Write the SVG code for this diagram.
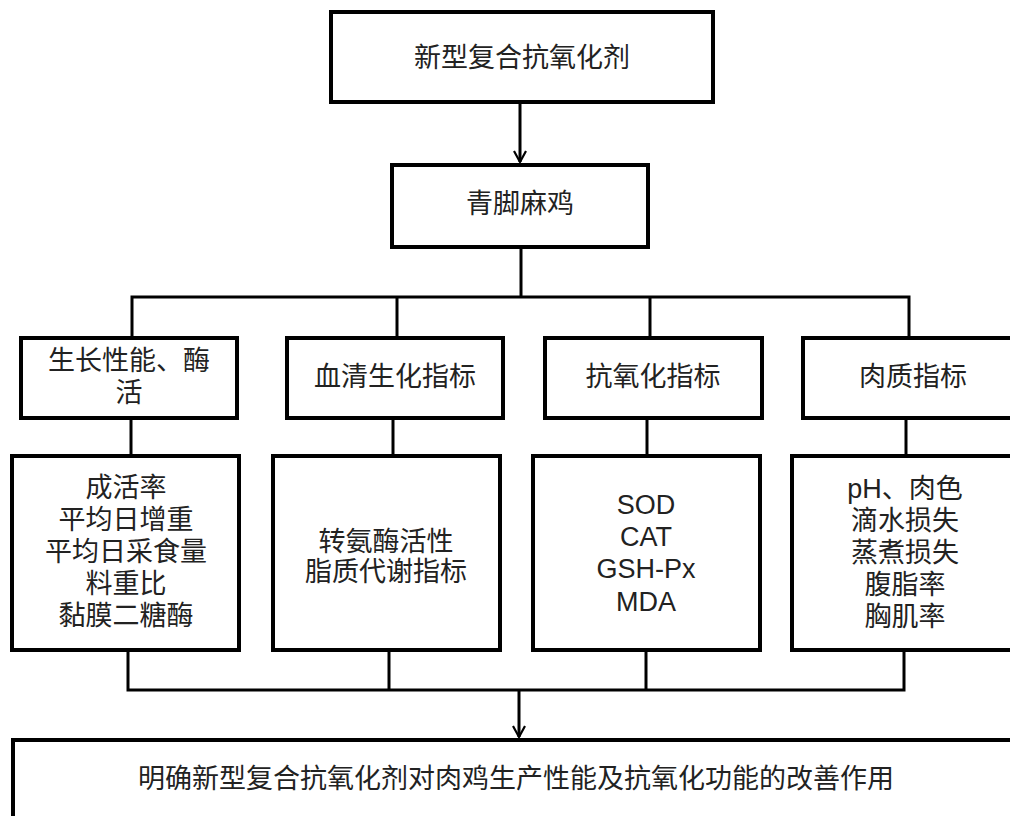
<svg xmlns="http://www.w3.org/2000/svg" width="1010" height="816" viewBox="0 0 1010 816">
<style>
.box{fill:#fff;stroke:#000;stroke-width:4}
.t{font-family:"Liberation Sans","Noto Sans CJK SC",sans-serif;font-size:27px;fill:#222;text-anchor:middle;dominant-baseline:central}
.c{fill:none;stroke:#000;stroke-width:3}
</style>
<defs>
<marker id="arr" viewBox="-14 -8 16 16" refX="0" refY="0" markerWidth="16" markerHeight="16" markerUnits="userSpaceOnUse" orient="auto">
<path d="M-11,-6 L0,0 L-11,6" fill="none" stroke="#000" stroke-width="2.2"/>
</marker>
</defs>
<rect width="1010" height="816" fill="#fff"/>
<g id="n_top">
<rect class="box" x="331" y="12" width="382" height="90"/>
<text class="t" x="522" y="58">新型复合抗氧化剂</text>
</g>
<g id="n_chicken">
<rect class="box" x="392" y="165" width="256" height="82"/>
<text class="t" x="520" y="204">青脚麻鸡</text>
</g>
<g id="n_growth">
<rect class="box" x="21" y="338" width="216" height="80"/>
<text class="t" x="129" y="361">生长性能、酶</text>
<text class="t" x="129" y="393">活</text>
</g>
<g id="n_serum">
<rect class="box" x="287" y="338" width="216" height="80"/>
<text class="t" x="395" y="377">血清生化指标</text>
</g>
<g id="n_antiox">
<rect class="box" x="545" y="338" width="217" height="80"/>
<text class="t" x="653" y="377">抗氧化指标</text>
</g>
<g id="n_meat">
<rect class="box" x="803" y="338" width="220" height="80"/>
<text class="t" x="913" y="377">肉质指标</text>
</g>
<g id="n_growth_items">
<rect class="box" x="12" y="456" width="227" height="194"/>
<text class="t" x="126" y="488">成活率</text>
<text class="t" x="126" y="520">平均日增重</text>
<text class="t" x="126" y="552">平均日采食量</text>
<text class="t" x="126" y="584">料重比</text>
<text class="t" x="126" y="616">黏膜二糖酶</text>
</g>
<g id="n_serum_items">
<rect class="box" x="273" y="456" width="227" height="194"/>
<text class="t" x="386" y="542">转氨酶活性</text>
<text class="t" x="386" y="572">脂质代谢指标</text>
</g>
<g id="n_antiox_items">
<rect class="box" x="533" y="456" width="227" height="194"/>
<text class="t" x="646" y="505">SOD</text>
<text class="t" x="646" y="537">CAT</text>
<text class="t" x="646" y="569">GSH-Px</text>
<text class="t" x="646" y="602">MDA</text>
</g>
<g id="n_meat_items">
<rect class="box" x="792" y="456" width="228" height="194"/>
<text class="t" x="905" y="489">pH、肉色</text>
<text class="t" x="905" y="521">滴水损失</text>
<text class="t" x="905" y="553">蒸煮损失</text>
<text class="t" x="905" y="585">腹脂率</text>
<text class="t" x="905" y="617">胸肌率</text>
</g>
<g id="n_result">
<rect class="box" x="13" y="740" width="1010" height="100"/>
<text class="t" x="516" y="779">明确新型复合抗氧化剂对肉鸡生产性能及抗氧化功能的改善作用</text>
</g>
<g id="connectors">
<path class="c" d="M520,104 V162" marker-end="url(#arr)"/>
<path class="c" d="M521,249 V297"/>
<path class="c" d="M132,336 V297 H909 V336"/>
<path class="c" d="M397,297 V336"/>
<path class="c" d="M650,297 V336"/>
<path class="c" d="M131,420 V454"/>
<path class="c" d="M393,420 V454"/>
<path class="c" d="M647,420 V454"/>
<path class="c" d="M906,420 V454"/>
<path class="c" d="M128,652 V690 H904 V652"/>
<path class="c" d="M389,652 V690"/>
<path class="c" d="M646,652 V690"/>
<path class="c" d="M519,690 V737" marker-end="url(#arr)"/>
</g>
</svg>
